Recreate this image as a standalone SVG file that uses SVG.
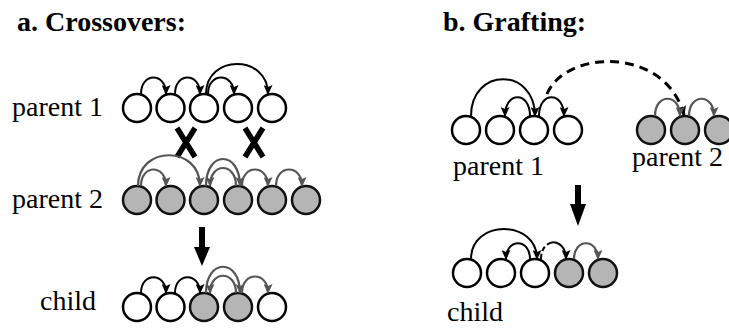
<svg xmlns="http://www.w3.org/2000/svg" width="729" height="329" viewBox="0 0 729 329">
  <defs>
    <marker id="arrowBlack" viewBox="0 0 10 9" refX="9" refY="4.5" markerWidth="10" markerHeight="9" markerUnits="userSpaceOnUse" orient="auto">
      <path d="M0,0 L10,4.5 L0,9 L2,4.5 z" fill="#000"/>
    </marker>
    <marker id="arrowGray" viewBox="0 0 10 9" refX="9" refY="4.5" markerWidth="10" markerHeight="9" markerUnits="userSpaceOnUse" orient="auto">
      <path d="M0,0 L10,4.5 L0,9 L2,4.5 z" fill="#555"/>
    </marker>
    <circle id="gene" r="14"/>
  </defs>
  <style>
    .title { font-family: "Liberation Serif", "Times New Roman", serif; font-size: 28px; font-weight: bold; fill: #000; }
    .label { font-family: "Liberation Serif", "Times New Roman", serif; font-size: 28px; fill: #000; }
    .white { fill: #fff; stroke: #000; stroke-width: 2.5; }
    .gray { fill: #b5b5b5; stroke: #111; stroke-width: 2.5; }
    .link { fill: none; stroke: #000; stroke-width: 2; marker-end: url(#arrowBlack); }
    .glink { fill: none; stroke: #555; stroke-width: 2.2; marker-end: url(#arrowGray); }
    .dash { fill: none; stroke: #000; stroke-width: 3; stroke-dasharray: 9 6; marker-end: url(#arrowBlack); }
    .cross { fill: none; stroke: #000; stroke-width: 5.5; }
    .down { fill: #000; }
  </style>

  <!-- titles -->
  <g id="title-a"><text class="title" x="17" y="31">a. Crossovers:</text></g>
  <g id="title-b"><text class="title" x="443" y="31">b. Grafting:</text></g>

  <!-- panel a: row labels -->
  <g id="a-label-p1"><text class="label" x="12" y="116">parent 1</text></g>
  <g id="a-label-p2"><text class="label" x="12" y="208">parent 2</text></g>
  <g id="a-label-child"><text class="label" x="40" y="310">child</text></g>

  <!-- panel a: parent 1 -->
  <g id="a-p1-n1"><use href="#gene" class="white" x="137" y="108"/></g>
  <g id="a-p1-n2"><use href="#gene" class="white" x="170.5" y="108"/></g>
  <g id="a-p1-n3"><use href="#gene" class="white" x="204" y="108"/></g>
  <g id="a-p1-n4"><use href="#gene" class="white" x="238" y="108"/></g>
  <g id="a-p1-n5"><use href="#gene" class="white" x="272" y="108"/></g>

  <!-- panel a: parent 2 -->
  <g id="a-p2-n1"><use href="#gene" class="gray" x="137" y="200"/></g>
  <g id="a-p2-n2"><use href="#gene" class="gray" x="170.5" y="200"/></g>
  <g id="a-p2-n3"><use href="#gene" class="gray" x="204" y="200"/></g>
  <g id="a-p2-n4"><use href="#gene" class="gray" x="238" y="200"/></g>
  <g id="a-p2-n5"><use href="#gene" class="gray" x="272" y="200"/></g>
  <g id="a-p2-n6"><use href="#gene" class="gray" x="306" y="200"/></g>

  <!-- panel a: child -->
  <g id="a-c-n1"><use href="#gene" class="white" x="137" y="307"/></g>
  <g id="a-c-n2"><use href="#gene" class="white" x="170.5" y="307"/></g>
  <g id="a-c-n3"><use href="#gene" class="gray" x="204" y="307"/></g>
  <g id="a-c-n4"><use href="#gene" class="gray" x="238" y="307"/></g>
  <g id="a-c-n5"><use href="#gene" class="white" x="272" y="307"/></g>

  <!-- panel b: labels -->
  <g id="b-label-p1"><text class="label" x="453" y="175">parent 1</text></g>
  <g id="b-label-p2"><text class="label" x="632" y="166">parent 2</text></g>
  <g id="b-label-child"><text class="label" x="447" y="321">child</text></g>

  <!-- panel b: parent 1 -->
  <g id="b-p1-n1"><use href="#gene" class="white" x="466" y="130"/></g>
  <g id="b-p1-n2"><use href="#gene" class="white" x="500" y="130"/></g>
  <g id="b-p1-n3"><use href="#gene" class="white" x="534" y="130"/></g>
  <g id="b-p1-n4"><use href="#gene" class="white" x="568" y="130"/></g>

  <!-- panel b: parent 2 -->
  <g id="b-p2-n1"><use href="#gene" class="gray" x="651" y="130"/></g>
  <g id="b-p2-n2"><use href="#gene" class="gray" x="685" y="130"/></g>
  <g id="b-p2-n3"><use href="#gene" class="gray" x="719" y="130"/></g>

  <!-- panel b: child -->
  <g id="b-c-n1"><use href="#gene" class="white" x="467" y="273"/></g>
  <g id="b-c-n2"><use href="#gene" class="white" x="501" y="273"/></g>
  <g id="b-c-n3"><use href="#gene" class="white" x="535" y="273"/></g>
  <g id="b-c-n4"><use href="#gene" class="gray" x="569" y="273"/></g>
  <g id="b-c-n5"><use href="#gene" class="gray" x="603" y="273"/></g>

  <!-- connectors -->
  <g id="connectors">
    <!-- a: parent 1 -->
    <path class="link" d="M141,94 C141,72 166,72 166,94"/>
    <path class="link" d="M175,94 C175,72 200,72 200,94"/>
    <path class="link" d="M208,94 C208,72 234,72 234,94"/>
    <path class="link" d="M206,94 C206,54 268,54 268,94"/>
    <!-- a: crossover points -->
    <path class="cross" d="M177,128 L195,157 M195,128 L177,157"/>
    <path class="cross" d="M245,128 L263,157 M263,128 L245,157"/>
    <!-- a: parent 2 -->
    <path class="glink" d="M141,186 C141,164 166,164 166,186"/>
    <path class="glink" d="M138,186 C138,145 200,145 200,186"/>
    <path class="glink" d="M206,186 C206,150 240,150 240,186"/>
    <path class="glink" d="M236,186 C236,162 210,162 210,186"/>
    <path class="glink" d="M242,186 C242,164 268,164 268,186"/>
    <path class="glink" d="M276,186 C276,164 302,164 302,186"/>
    <!-- a: result arrow -->
    <path class="down" d="M199,227 H205 V247 H210 L202,266 L194,247 H199 Z"/>
    <!-- a: child -->
    <path class="link" d="M141,293 C141,272 166,272 166,293"/>
    <path class="link" d="M175,293 C175,272 200,272 200,293"/>
    <path class="glink" d="M206,293 C206,258 240,258 240,293"/>
    <path class="glink" d="M236,293 C236,270 210,270 210,293"/>
    <path class="glink" d="M242,293 C242,271 268,271 268,293"/>

    <!-- b: parent 1 -->
    <path class="link" d="M471,116 C471,67 535,67 535,116"/>
    <path class="link" d="M530,116 C530,91 505,91 505,116"/>
    <path class="link" d="M539,116 C539,91 564,91 564,116"/>
    <!-- b: graft source to parent 2 -->
    <path class="dash" d="M547,94 C565,50 665,45 684,115"/>
    <!-- b: parent 2 -->
    <path class="glink" d="M655,116 C655,93 680,93 680,116"/>
    <path class="glink" d="M689,116 C689,93 714,93 714,116"/>
    <!-- b: result arrow -->
    <path class="down" d="M575,185 H581 V204 H586 L578,226 L570,204 H575 Z"/>
    <!-- b: child -->
    <path class="link" d="M471,259 C471,219 537,219 537,259"/>
    <path class="link" d="M530,259 C530,238 506,238 506,259"/>
    <path class="link" style="stroke-dasharray: 5 3 5 3 200" d="M541,259 C541,237 566,237 566,259"/>
    <path class="glink" d="M574,259 C574,238 598,238 598,259"/>
  </g>
</svg>
